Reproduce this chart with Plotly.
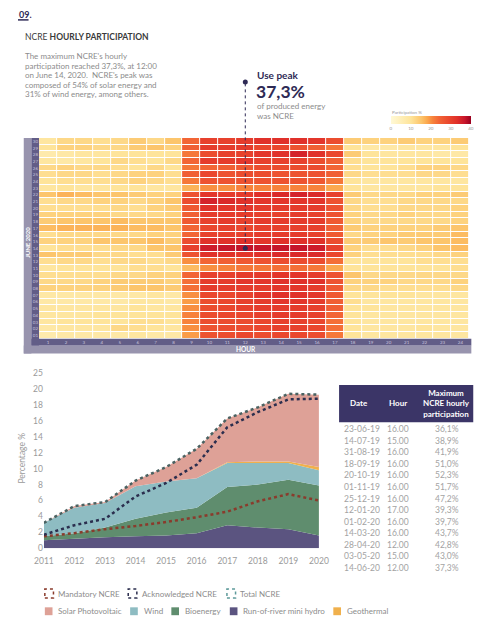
import plotly.graph_objects as go

# page has an 8px body margin: figure is 481x624 placed at (8,8)
OFF = 8
FW, FH = 481, 624
def px(x): return (x - OFF) / FW
def py(y): return 1 - (y - OFF) / FH

FONT = "Lato"
NAVY = "#2E2A55"
GRAY = "#8A8A8A"

# ---------------- heatmap data (June 2020, hourly NCRE participation %) ----------------
hours = list(range(1, 25))
days = list(range(30, 0, -1))  # rows listed top (30) to bottom (01)
participation = [
    [9, 12, 12, 11, 12, 14, 12, 15, 24, 30, 30, 31, 33, 33, 33, 32, 28, 14, 13, 13, 14, 13, 13, 14],
    [10, 13, 13, 12, 12, 14, 15, 13, 25, 31, 31, 31, 29, 29, 27, 25, 22, 10, 8, 8, 9, 9, 9, 10],
    [7, 8, 9, 9, 10, 10, 10, 10, 22, 28, 30, 30, 32, 33, 35, 33, 29, 14, 10, 9, 9, 9, 8, 8],
    [9, 8, 9, 10, 12, 11, 10, 12, 24, 31, 31, 32, 30, 30, 30, 28, 25, 11, 10, 10, 10, 10, 10, 10],
    [12, 13, 12, 12, 11, 10, 12, 10, 22, 24, 25, 26, 28, 28, 28, 28, 24, 11, 10, 10, 11, 13, 13, 12],
    [11, 12, 12, 11, 12, 13, 13, 11, 25, 29, 27, 28, 28, 27, 27, 27, 25, 12, 11, 11, 11, 12, 12, 11],
    [10, 11, 11, 11, 12, 13, 12, 11, 22, 27, 27, 27, 27, 27, 27, 26, 22, 10, 9, 9, 9, 9, 9, 9],
    [9, 10, 9, 9, 10, 10, 9, 9, 17, 20, 20, 21, 21, 21, 21, 21, 18, 10, 9, 9, 9, 9, 10, 10],
    [15, 17, 16, 15, 15, 14, 13, 13, 27, 32, 31, 31, 33, 34, 35, 34, 30, 14, 12, 12, 12, 13, 13, 14],
    [11, 12, 12, 13, 13, 12, 13, 15, 28, 35, 34, 33, 32, 32, 32, 32, 27, 12, 11, 11, 12, 12, 12, 12],
    [11, 11, 11, 11, 12, 11, 13, 14, 26, 33, 32, 32, 31, 31, 31, 31, 27, 12, 11, 11, 12, 12, 12, 13],
    [13, 13, 13, 13, 12, 12, 12, 13, 25, 31, 31, 31, 30, 30, 31, 30, 27, 13, 12, 12, 13, 12, 12, 13],
    [14, 15, 15, 15, 16, 15, 15, 15, 26, 30, 31, 30, 31, 31, 31, 31, 26, 13, 12, 12, 12, 12, 12, 13],
    [16, 17, 17, 17, 17, 16, 16, 15, 24, 29, 30, 29, 30, 30, 30, 30, 25, 14, 13, 13, 13, 13, 14, 15],
    [11, 12, 12, 12, 12, 12, 13, 13, 24, 30, 30, 30, 31, 31, 31, 30, 26, 12, 13, 13, 14, 14, 14, 16],
    [13, 13, 13, 15, 15, 15, 16, 14, 28, 33, 33, 33, 32, 33, 33, 33, 28, 14, 14, 15, 14, 15, 15, 16],
    [10, 11, 11, 11, 12, 12, 15, 15, 30, 36, 37, 37.3, 37, 37, 37, 36, 30, 13, 11, 11, 12, 13, 15, 16],
    [15, 14, 14, 12, 12, 11, 11, 14, 27, 33, 33, 32, 33, 34, 34, 34, 29, 13, 11, 11, 11, 11, 12, 13],
    [11, 12, 12, 11, 12, 12, 11, 12, 20, 24, 25, 26, 27, 28, 28, 28, 23, 10, 10, 10, 10, 11, 11, 11],
    [9, 10, 10, 10, 10, 11, 11, 10, 16, 20, 21, 22, 22, 23, 23, 22, 18, 10, 10, 10, 10, 10, 10, 11],
    [11, 11, 11, 11, 12, 12, 13, 13, 24, 30, 30, 31, 31, 32, 32, 31, 27, 15, 12, 12, 12, 12, 12, 12],
    [12, 12, 12, 13, 14, 14, 14, 13, 23, 31, 31, 32, 32, 33, 33, 33, 27, 13, 13, 13, 12, 12, 12, 13],
    [13, 13, 13, 13, 14, 15, 15, 14, 23, 31, 31, 31, 31, 32, 32, 31, 26, 12, 12, 11, 11, 11, 11, 12],
    [8, 8, 8, 8, 8, 8, 9, 8, 20, 29, 29, 30, 32, 33, 33, 32, 26, 10, 10, 10, 10, 9, 9, 9],
    [8, 8, 8, 8, 8, 9, 9, 8, 19, 28, 29, 30, 31, 32, 32, 31, 25, 11, 9, 9, 9, 9, 9, 9],
    [9, 9, 9, 9, 9, 10, 9, 9, 20, 28, 29, 30, 31, 31, 31, 30, 25, 10, 10, 9, 9, 9, 9, 9],
    [9, 9, 9, 10, 10, 10, 10, 10, 21, 28, 29, 29, 30, 31, 31, 30, 24, 10, 9, 9, 9, 9, 9, 9],
    [9, 10, 10, 10, 10, 11, 11, 10, 21, 28, 28, 28, 29, 30, 30, 29, 23, 10, 9, 9, 9, 9, 9, 9],
    [8, 9, 9, 9, 12, 11, 10, 9, 20, 27, 28, 28, 29, 30, 30, 29, 23, 10, 9, 9, 9, 10, 9, 9],
    [7, 8, 8, 8, 8, 9, 8, 8, 19, 27, 28, 29, 28, 29, 29, 28, 22, 10, 9, 9, 9, 9, 9, 9],
]
colorbar_ticks = [0, 10, 20, 30, 40]

# ---------------- area chart data (% of generation) ----------------
years = [2011, 2012, 2013, 2014, 2015, 2016, 2017, 2018, 2019, 2020]
hydro = [1.0, 1.2, 1.4, 1.5, 1.6, 1.9, 2.9, 2.6, 2.4, 1.6]
bioenergy = [0.5, 0.7, 1.2, 2.2, 2.9, 3.2, 4.8, 5.4, 6.2, 6.3]
wind = [1.7, 3.2, 3.1, 4.1, 3.9, 3.7, 3.0, 2.7, 2.1, 1.9]
geothermal = [0.0, 0.0, 0.0, 0.0, 0.0, 0.0, 0.1, 0.2, 0.2, 0.4]
solar = [0.0, 0.2, 0.1, 0.7, 1.8, 3.7, 5.5, 6.8, 8.5, 9.1]
acknowledged = [1.7, 2.9, 3.7, 6.5, 8.2, 10.5, 15.2, 17.1, 18.7, 18.8]
mandatory = [1.5, 1.9, 2.4, 2.8, 3.3, 3.9, 4.6, 5.9, 6.8, 6.0]
y_tickvals = [0, 2, 4, 6, 8, 10, 12, 14, 16, 18, 20, 22]
y_ticktext = ["0", "2", "4", "6", "8", "10", "12", "14", "16", "18", "20", "25"]

# ---------------- table data ----------------
tbl_header = ["Date", "Hour", "Maximum<br>NCRE hourly<br>participation"]
tbl_dates = ["23-06-19", "14-07-19", "31-08-19", "18-09-19", "20-10-19", "01-11-19", "25-12-19",
             "12-01-20", "01-02-20", "14-03-20", "28-04-20", "03-05-20", "14-06-20"]
tbl_hours = ["16.00", "15.00", "16.00", "16.00", "16.00", "16.00", "16.00",
             "17.00", "16.00", "16.00", "12.00", "15.00", "12.00"]
tbl_max = ["36,1%", "38,9%", "41,9%", "51,0%", "52,3%", "51,7%", "47,2%",
           "39,3%", "39,7%", "43,7%", "42,8%", "43,0%", "37,3%"]

C_HYDRO, C_BIO, C_WIND, C_GEO, C_SOLAR = "#5B5480", "#5F8D6E", "#8EBCC2", "#F0B04C", "#DEA197"
C_MAND, C_ACK, C_TOT = "#8A3B2C", "#2B2E4E", "#4A6262"

fig = go.Figure()

colorscale = [[0, "#FFF9D6"], [0.25, "#FEE49A"], [0.38, "#FCC46A"], [0.45, "#FBA94F"],
              [0.52, "#F7843C"], [0.6, "#F26535"], [0.72, "#EA482E"], [0.82, "#E1322A"],
              [0.92, "#C9172B"], [1, "#99001F"]]
fig.add_trace(go.Heatmap(
    x=hours, y=days, z=participation, zmin=0, zmax=40, colorscale=colorscale,
    xgap=1, ygap=1, xaxis="x", yaxis="y", hoverinfo="skip",
    colorbar=dict(orientation="h", x=px(397), xanchor="left", y=py(113), yanchor="top",
                  len=83 / FW, lenmode="fraction", thickness=8, outlinewidth=0,
                  tickvals=colorbar_ticks, ticks="", tickfont=dict(size=4.5, color="#999", family=FONT),
                  ypad=0, xpad=0)))

peak_val, peak_hour, peak_day = max((v, hours[j], days[i]) for i, row in enumerate(participation)
                                    for j, v in enumerate(row))
fig.add_trace(go.Scatter(x=[peak_hour], y=[peak_day], mode="markers", xaxis="x", yaxis="y",
                         marker=dict(size=5, color=NAVY), hoverinfo="skip", showlegend=False))

for name, vals, col in [("Run-of-river mini hydro", hydro, C_HYDRO), ("Bioenergy", bioenergy, C_BIO),
                        ("Wind", wind, C_WIND), ("Geothermal", geothermal, C_GEO),
                        ("Solar Photovoltaic", solar, C_SOLAR)]:
    fig.add_trace(go.Scatter(x=years, y=vals, name=name, stackgroup="gen", mode="lines",
                             line=dict(width=0), fillcolor=col, xaxis="x2", yaxis="y2",
                             hoverinfo="skip", showlegend=False))

total = [round(a + b + c + d + e, 2) for a, b, c, d, e in zip(hydro, bioenergy, wind, geothermal, solar)]
for name, vals, col in [("Mandatory NCRE", mandatory, C_MAND), ("Acknowledged NCRE", acknowledged, C_ACK),
                        ("Total NCRE", total, C_TOT)]:
    fig.add_trace(go.Scatter(x=years, y=vals, name=name, mode="lines",
                             line=dict(color=col, width=2.5, dash="dot"),
                             xaxis="x2", yaxis="y2", hoverinfo="skip", showlegend=False))

heat_y0, heat_y1 = py(339), py(135)
fig.update_layout(
    width=FW, height=FH, margin=dict(l=0, r=0, t=0, b=0),
    paper_bgcolor="white", plot_bgcolor="white", showlegend=False,
    font=dict(family=FONT, color=GRAY),
    xaxis=dict(domain=[px(30), px(479)], range=[0.5, 24.5], tickvals=hours,
               ticktext=[str(h) for h in hours], showgrid=False, zeroline=False, showline=False,
               ticks="", tickfont=dict(size=4.5, color="#C9C5DE", family=FONT), fixedrange=True),
    yaxis=dict(domain=[heat_y0, heat_y1], range=[0.5, 30.5], tickvals=days,
               ticktext=[f"{d:02d}" for d in days], showgrid=False, zeroline=False, showline=False,
               ticks="", tickfont=dict(size=4.5, color="#C9C5DE", family=FONT), fixedrange=True),
    xaxis2=dict(domain=[px(35), px(322)], range=[2011, 2020], tickvals=years, showgrid=False,
                zeroline=False, showline=False, ticks="outside", ticklen=5, tickcolor="rgba(0,0,0,0)",
                tickfont=dict(size=8.5, color="#9A9A9A", family=FONT), anchor="y2"),
    yaxis2=dict(domain=[py(552), py(374)], range=[0, 22], tickvals=y_tickvals, ticktext=y_ticktext,
                showgrid=False, zeroline=False, showline=False, ticks="",
                tickfont=dict(size=8.5, color="#9A9A9A", family=FONT), anchor="x2"),
)

shapes = []
LIGHT_BAND, DARK_BAND = "#9894AE", "#625D87"
def rect(x0, y0, x1, y1, color, layer="below"):
    return dict(type="rect", xref="paper", yref="paper", x0=px(x0), x1=px(x1), y0=py(y1), y1=py(y0),
                fillcolor=color, line=dict(width=0), layer=layer)
shapes += [rect(14, 135, 22, 354, LIGHT_BAND), rect(14, 346, 481, 354, LIGHT_BAND),
           rect(22, 135, 30, 346, DARK_BAND), rect(22, 339, 481, 346, DARK_BAND)]
shapes.append(rect(343, 386, 483, 424, "#3B3567"))
shapes.append(dict(type="line", xref="paper", yref="paper", x0=px(8), x1=px(19), y0=py(15), y1=py(15),
                   line=dict(color=NAVY, width=1.5)))
peak_y = heat_y0 + (peak_day - 0.5) / 30 * (heat_y1 - heat_y0)
shapes.append(dict(type="line", xref="x", yref="paper", x0=peak_hour, x1=peak_hour, y0=peak_y, y1=py(78),
                   line=dict(color=NAVY, width=1, dash="dot"), layer="above"))
shapes.append(dict(type="circle", xref="x", xsizemode="pixel", xanchor=peak_hour, x0=-2.5, x1=2.5,
                   yref="paper", ysizemode="pixel", yanchor=py(78), y0=-2.5, y1=2.5,
                   fillcolor=NAVY, line=dict(width=0)))

annotations = []
def text(x, y, s, size=9, color=GRAY, xanchor="left", bold=False, angle=0, yanchor="middle"):
    annotations.append(dict(x=px(x), y=py(y), xref="paper", yref="paper", text=f"<b>{s}</b>" if bold else s,
                            showarrow=False, xanchor=xanchor, yanchor=yanchor, textangle=angle, align="left",
                            borderpad=0, font=dict(size=size, color=color, family=FONT)))

text(8, 10, "09.", size=9, color=NAVY, bold=True)
text(14, 32, "NCRE <b>HOURLY PARTICIPATION</b>", size=8.5, color="#3A3A3A")
para = ["The maximum NCRE's hourly", "participation reached 37,3%, at 12:00",
        "on June 14, 2020.  NCRE's peak was", "composed of 54% of solar energy and",
        "31% of wind energy, among others."]
for i, line in enumerate(para):
    text(14, 52 + i * 9.7, line, size=8, color="#8C8C8C")

peak_txt = f"{peak_val:.1f}%".replace(".", ",")
text(256, 71, "Use peak", size=10, color=NAVY, bold=True)
text(255, 87.5, peak_txt, size=17.5, color=NAVY, bold=True)
text(256, 103, "of produced energy", size=8, color="#8C8C8C")
text(256, 112.5, "was NCRE", size=8, color="#8C8C8C")
text(397, 109.5, "Participation %", size=4.5, color="#999")

text(18, 241, "JUNE 2020", size=6, color="white", xanchor="center", bold=True, angle=-90)
text(246, 350, "HOUR", size=6.5, color="white", xanchor="center", bold=True)
text(12, 460, "Percentage %", size=8.5, color="#9A9A9A", xanchor="center", angle=-90)

text(364, 404, tbl_header[0], size=8, color="white", xanchor="center", bold=True)
text(405, 404, tbl_header[1], size=8, color="white", xanchor="center", bold=True)
annotations.append(dict(x=px(455), y=py(405), xref="paper", yref="paper", text=f"<b>{tbl_header[2]}</b>",
                        showarrow=False, xanchor="center", yanchor="middle", align="center", borderpad=0,
                        font=dict(size=8, color="white", family=FONT)))
for i, (d, h, m) in enumerate(zip(tbl_dates, tbl_hours, tbl_max)):
    yy = 431 + i * 11.75
    text(347, yy, d, size=8.5, color="#A3A3A3")
    text(404, yy, h, size=8.5, color="#A3A3A3", xanchor="center")
    text(456, yy, m, size=8.5, color="#A3A3A3", xanchor="center")

def dotted_icon(x, y, color):
    shapes.append(dict(type="rect", xref="paper", yref="paper", x0=px(x), x1=px(x + 9),
                       y0=py(y + 4.5), y1=py(y - 4.5), line=dict(color=color, width=1.5, dash="dot"),
                       fillcolor="rgba(0,0,0,0)"))
def square_icon(x, y, color):
    shapes.append(dict(type="rect", xref="paper", yref="paper", x0=px(x), x1=px(x + 8),
                       y0=py(y + 4), y1=py(y - 4), line=dict(width=0), fillcolor=color))

for x, name, col in [(36, "Mandatory NCRE", C_MAND), (123, "Acknowledged NCRE", C_ACK), (226, "Total NCRE", "#5E9A9A")]:
    dotted_icon(x, 598, col)
    text(x + 13, 598, name, size=8, color="#8C8C8C")
for x, name, col in [(36, "Solar Photovoltaic", C_SOLAR), (125, "Wind", C_WIND), (168, "Bioenergy", C_BIO),
                     (229, "Run-of-river mini hydro", C_HYDRO), (337, "Geothermal", C_GEO)]:
    square_icon(x, 616, col)
    text(x + 13, 616, name, size=8, color="#8C8C8C")

fig.update_layout(shapes=shapes, annotations=annotations)

fig.write_html("out.html", config={"displayModeBar": False})
